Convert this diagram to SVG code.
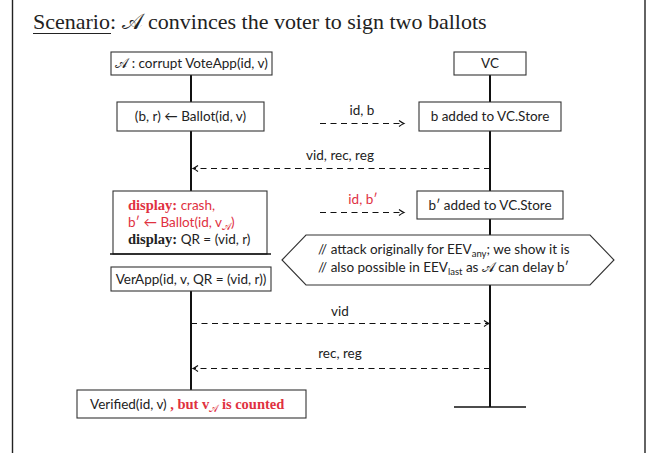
<svg xmlns="http://www.w3.org/2000/svg" width="653" height="453" viewBox="0 0 653 453">
  <style>
    .frame { stroke: #222; stroke-width: 1.4; fill: none; }
    .box { fill: #fff; stroke: #333; stroke-width: 1.1; }
    .life { stroke: #111; stroke-width: 2; fill: none; }
    .bar { stroke: #111; stroke-width: 1.4; fill: none; }
    .msg { stroke: #111; stroke-width: 1.1; stroke-dasharray: 6 4.5; fill: none; }
    .t { font-family: Lato, "Liberation Sans", sans-serif; font-size: 13.5px; fill: #222; }
    .c { text-anchor: middle; }
    .red { fill: #e0313f; }
    .bf { font-family: "Liberation Serif", serif; font-weight: bold; font-size: 14.5px; }
    .title { font-family: "Liberation Serif", serif; font-size: 22px; fill: #222; }
    .cal { font-family: "DejaVu Serif", "Liberation Serif", serif; }
  </style>
  <defs>
    <marker id="head" markerWidth="8" markerHeight="8" refX="6" refY="4" orient="auto" markerUnits="userSpaceOnUse">
      <path d="M1,1 Q4,3.2 6,4 Q4,4.8 1,7" fill="none" stroke="#111" stroke-width="1.1"/>
    </marker>
  </defs>

  <!-- frame -->
  <line class="frame" x1="12.5" y1="0" x2="12.5" y2="453"/>
  <line class="frame" x1="645" y1="0" x2="645" y2="453"/>

  <!-- title -->
  <text class="title" x="33" y="29">Scenario: <tspan class="cal">𝒜</tspan> convinces the voter to sign two ballots</text>
  <line x1="33" y1="33.5" x2="111" y2="33.5" stroke="#222" stroke-width="1"/>

  <!-- lifelines -->
  <g id="lifelines">
    <line class="life" x1="191" y1="75" x2="191" y2="254"/>
    <line class="life" x1="191" y1="291" x2="191" y2="390"/>
    <line class="life" x1="490" y1="75" x2="490" y2="407"/>
    <line class="bar" x1="454" y1="407" x2="526" y2="407"/>
  </g>

  <!-- connectors -->
  <g id="connectors">
    <line class="msg" x1="320" y1="123.5" x2="404" y2="123.5" marker-end="url(#head)"/>
    <text class="t c" x="362" y="115">id, b</text>
    <line class="msg" x1="490" y1="168.5" x2="193" y2="168.5" marker-end="url(#head)"/>
    <text class="t c" x="340" y="160">vid, rec, reg</text>
    <line class="msg" x1="320" y1="212.5" x2="404" y2="212.5" marker-end="url(#head)"/>
    <text class="t c red" x="363" y="204">id, b′</text>
    <line class="msg" x1="191" y1="323.5" x2="489" y2="323.5" marker-end="url(#head)"/>
    <text class="t c" x="340" y="316">vid</text>
    <line class="msg" x1="490" y1="368.5" x2="193" y2="368.5" marker-end="url(#head)"/>
    <text class="t c" x="340" y="358">rec, reg</text>
  </g>

  <g id="attacker">
    <rect class="box" x="111" y="52" width="161" height="23"/>
    <text class="t c" x="191.5" y="68" font-size="13"><tspan class="cal" font-size="13.5">𝒜</tspan> : corrupt VoteApp(id, v)</text>
  </g>

  <g id="vc">
    <rect class="box" x="454" y="52" width="72" height="23"/>
    <text class="t c" x="490" y="68" font-size="13">VC</text>
  </g>

  <g id="ballot">
    <rect class="box" x="117" y="102" width="147" height="29"/>
    <text class="t c" x="190.5" y="121">(b, r) ← Ballot(id, v)</text>
  </g>

  <g id="store-b">
    <rect class="box" x="419" y="102" width="142" height="29"/>
    <text class="t c" x="490" y="121">b added to VC.Store</text>
  </g>

  <g id="display">
    <rect class="box" x="113" y="191" width="154" height="63"/>
    <line class="bar" x1="110" y1="254" x2="271" y2="254"/>
    <text class="t red" x="128" y="210"><tspan class="bf">display:</tspan> crash,</text>
    <text class="t red" x="128" y="227">b′ ← Ballot(id, v<tspan class="cal" font-size="10" dy="3">𝒜</tspan><tspan dy="-3">)</tspan></text>
    <text class="t" x="128" y="244"><tspan class="bf">display:</tspan> QR = (vid, r)</text>
  </g>

  <g id="store-b2">
    <rect class="box" x="417" y="191" width="146" height="28"/>
    <text class="t c" x="490" y="210">b′ added to VC.Store</text>
  </g>

  <g id="note">
    <polygon class="box" points="282,260 306,235 590,235 614,260 590,285 306,285"/>
    <text class="t" x="318" y="254">// attack originally for EEV<tspan font-size="9.5" dy="3">any</tspan><tspan dy="-3">; we show it is</tspan></text>
    <text class="t" x="318" y="272">// also possible in EEV<tspan font-size="9.5" dy="3">last</tspan><tspan dy="-3"> as  <tspan class="cal">𝒜</tspan> can delay b′</tspan></text>
  </g>

  <g id="verapp">
    <rect class="box" x="111" y="267" width="160" height="24"/>
    <text class="t c" x="191" y="284">VerApp(id, v, QR = (vid, r))</text>
  </g>

  <g id="verified">
    <rect class="box" x="77" y="390" width="229" height="28"/>
    <text class="t" x="90" y="409">Verified(id, v) <tspan class="red bf" font-size="15">, but v</tspan><tspan class="red cal" font-size="10" dy="3">𝒜</tspan><tspan class="red bf" font-size="15" dy="-3"> is counted</tspan></text>
  </g>
</svg>
